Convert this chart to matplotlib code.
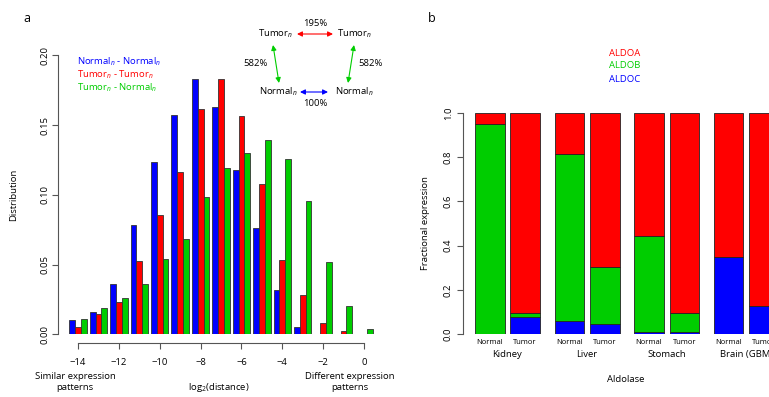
"""
Two-panel figure: log2 distance histogram (a) and aldolase fractional expression (b)
"""

import matplotlib.pyplot as plt
import numpy as np

plt.rcParams["font.family"] = ["Open Sans", "DejaVu Sans"]
plt.rcParams["mathtext.fontset"] = "custom"
plt.rcParams["mathtext.rm"] = "Open Sans"
plt.rcParams["mathtext.it"] = "Open Sans:italic"

# panel a data
log_dist = [-14, -13, -12, -11, -10, -9, -8, -7, -6, -5, -4, -3, -2, -1, 0]
normal_normal = [0.0103, 0.0158, 0.0361, 0.0786, 0.1233, 0.1575, 0.1830, 0.1627,
                 0.1178, 0.0760, 0.0320, 0.0053, 0.0, 0.0, 0.0]
tumor_tumor = [0.0055, 0.0143, 0.0229, 0.0528, 0.0858, 0.1166, 0.1618, 0.1833,
               0.1563, 0.1078, 0.0533, 0.0282, 0.0081, 0.0024, 0.0]
tumor_normal = [0.0108, 0.0186, 0.0260, 0.0358, 0.0540, 0.0683, 0.0982, 0.1192,
                0.1297, 0.1393, 0.1254, 0.0953, 0.0521, 0.0205, 0.0041]
x_ticks_a = [-14, -12, -10, -8, -6, -4, -2, 0]
y_ticks_a = [0.00, 0.05, 0.10, 0.15, 0.20]

# panel b data
tissues = ["Kidney", "Liver", "Stomach", "Brain (GBM)"]
conditions = ["Normal", "Tumor"]
aldoc = [0.003, 0.077, 0.060, 0.047, 0.009, 0.010, 0.347, 0.126]
aldob = [0.947, 0.018, 0.754, 0.258, 0.433, 0.088, 0.0, 0.0]
aldoa = [1 - c - b for c, b in zip(aldoc, aldob)]
y_ticks_b = [0.0, 0.2, 0.4, 0.6, 0.8, 1.0]

BLUE, RED, GREEN = "#0000FF", "#FF0000", "#00CD00"
W, H = 769, 397
FS = 6.8


def fx(px):
    return px / W


def fy(py):
    return 1 - py / H


fig = plt.figure(figsize=(W / 100, H / 100), dpi=100)

# ---------------- panel a ----------------
ax = fig.add_axes([fx(58), fy(334.3), (378 - 58) / W, (334.3 - 55.3) / H])
bw = 0.857 / 3
xs = np.array(log_dist, dtype=float)
for off, vals, col in [(-bw, normal_normal, BLUE), (0, tumor_tumor, RED),
                       (bw, tumor_normal, GREEN)]:
    ax.bar(xs + off, vals, width=bw, color=col, edgecolor="#333333", linewidth=0.6)

ax.set_xlim(-14.98, 0.685)
ax.set_ylim(0, 0.2)
for s in ["top", "right"]:
    ax.spines[s].set_visible(False)
ax.spines["bottom"].set_position(("outward", 6.3))
ax.spines["bottom"].set_bounds(-14, 0)
ax.spines["left"].set_bounds(0, 0.2)
for s in ["left", "bottom"]:
    ax.spines[s].set_color("#555555")
    ax.spines[s].set_linewidth(0.8)
ax.set_xticks(x_ticks_a)
ax.set_xticklabels([str(t).replace("-", "\u2212") for t in x_ticks_a])
ax.set_yticks(y_ticks_a)
ax.set_yticklabels(["%.2f" % t for t in y_ticks_a], rotation=90, va="center")
ax.tick_params(length=4.3, width=0.8, color="#555555", labelsize=FS)
ax.tick_params(axis="x", pad=6.5)
ax.tick_params(axis="y", pad=1.5)

fig.text(fx(14), fy(195), "Distribution", rotation=90, ha="center", va="center", fontsize=FS)
fig.text(fx(75), fy(382), "Similar expression\npatterns", ha="center", va="center",
         fontsize=FS, linespacing=1.25)
fig.text(fx(219), fy(388), r"log$_2$(distance)", ha="center", va="center", fontsize=FS)
fig.text(fx(350), fy(382), "Different expression\npatterns", ha="center", va="center",
         fontsize=FS, linespacing=1.25)
fig.text(fx(27), fy(18), "a", ha="center", va="center", fontsize=9)

legend_a = [(r"Normal$_n$ - Normal$_n$", BLUE), (r"Tumor$_n$ - Tumor$_n$", RED),
            (r"Tumor$_n$ - Normal$_n$", GREEN)]
for i, (txt, col) in enumerate(legend_a):
    fig.text(fx(77), fy(62 + 13 * i), txt, color=col, ha="left", va="center", fontsize=FS)

# state diagram
fig.text(fx(276), fy(34), r"Tumor$_n$", ha="center", va="center", fontsize=FS)
fig.text(fx(355), fy(34), r"Tumor$_n$", ha="center", va="center", fontsize=FS)
fig.text(fx(278), fy(92), r"Normal$_n$", ha="center", va="center", fontsize=FS)
fig.text(fx(354), fy(92), r"Normal$_n$", ha="center", va="center", fontsize=FS)
fig.text(fx(315), fy(24), "195%", ha="center", va="center", fontsize=FS)
fig.text(fx(315), fy(103), "100%", ha="center", va="center", fontsize=FS)
fig.text(fx(256), fy(63), "582%", ha="center", va="center", fontsize=FS)
fig.text(fx(371), fy(63), "582%", ha="center", va="center", fontsize=FS)
for (x0, y0, x1, y1, col) in [(297, 34, 333, 34, RED), (300, 92, 328, 92, BLUE),
                              (273, 45, 279, 83, GREEN), (354, 45, 348, 83, GREEN)]:
    fig.add_artist(plt.matplotlib.patches.FancyArrowPatch(
        (fx(x0), fy(y0)), (fx(x1), fy(y1)), transform=fig.transFigure,
        arrowstyle="<|-|>,head_length=3,head_width=1.5", color=col, lw=0.8,
        shrinkA=0, shrinkB=0))

# ---------------- panel b ----------------
ub = 29.5
bx = fig.add_axes([fx(463), fy(334.3), (800 - 463) / W, (334.3 - 112.8) / H])
lefts = []
for g in range(len(tissues)):
    lefts += [g * 2.7, g * 2.7 + 1.2]
centers = np.array(lefts) + 0.5
bot = np.zeros(len(centers))
for vals, col in [(aldoc, BLUE), (aldob, GREEN), (aldoa, RED)]:
    bx.bar(centers, vals, bottom=bot, width=1, color=col, edgecolor="#222222",
           linewidth=0.6)
    bot += np.array(vals)

bx.set_xlim(-12 / ub, (800 - 475) / ub)
bx.set_ylim(0, 1)
for s in ["top", "right", "bottom"]:
    bx.spines[s].set_visible(False)
bx.spines["left"].set_bounds(0, 1)
bx.spines["left"].set_color("#555555")
bx.spines["left"].set_linewidth(0.8)
bx.set_xticks([])
bx.set_yticks(y_ticks_b)
bx.set_yticklabels(["%.1f" % t for t in y_ticks_b], rotation=90, va="center")
bx.tick_params(length=4.3, width=0.8, color="#555555", labelsize=FS, pad=3)

for i, c in enumerate(centers):
    bx.text(c, -0.036, conditions[i % 2], ha="center", va="center", fontsize=5.5,
            transform=bx.get_xaxis_transform())
for g, t in enumerate(tissues):
    bx.text((centers[2 * g] + centers[2 * g + 1]) / 2, -0.09, t, ha="center",
            va="center", fontsize=FS, transform=bx.get_xaxis_transform())

fig.text(fx(626), fy(379), "Aldolase", ha="center", va="center", fontsize=FS)
fig.text(fx(425), fy(223), "Fractional expression", rotation=90, ha="center",
         va="center", fontsize=FS)
fig.text(fx(432), fy(18), "b", ha="center", va="center", fontsize=9)
for i, (txt, col) in enumerate([("ALDOA", RED), ("ALDOB", GREEN), ("ALDOC", BLUE)]):
    fig.text(fx(625), fy(53 + 13 * i), txt, color=col, ha="center", va="center",
             fontsize=FS)

plt.savefig("out.png", dpi=100)
plt.close()
